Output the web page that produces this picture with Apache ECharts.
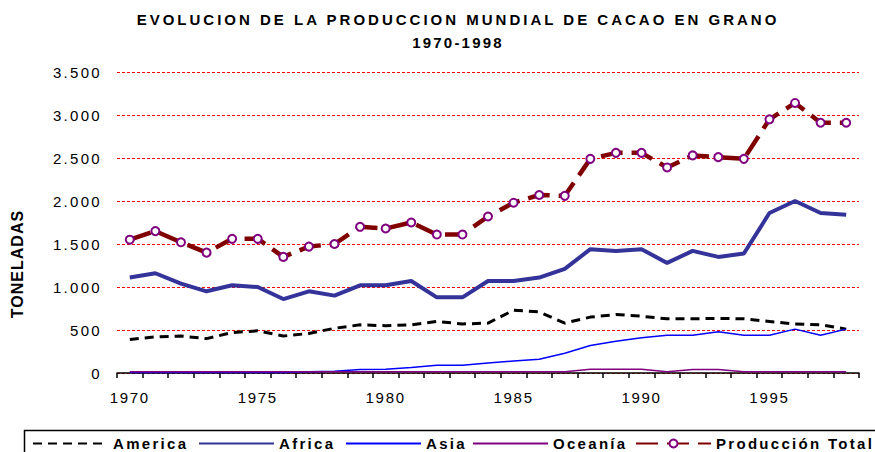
<!DOCTYPE html>
<html>
<head>
<meta charset="utf-8">
<script src="https://cdn.jsdelivr.net/npm/echarts@6/dist/echarts.min.js"></script>
<style>
	html, body { margin: 0; padding: 0; background: #fff; }
	#chart { width: 875px; height: 452px; }
	/* espaciado de letras como en el original (solo en modo svg) */
	text[style*="xqtitle"] { letter-spacing: 3px; }
	text[style*="xqsub"] { letter-spacing: 2.2px; }
	text[style*="xqlgd"] { letter-spacing: 2.3px; }
	text[style*="xqxlab"] { letter-spacing: 1.7px; }
	text[style*="xqylab"] { letter-spacing: 2.3px; }
	text[style*="xqyname"] { letter-spacing: 1px; }
</style>
</head>
<body>
<div id="chart"></div>
<script>
	// años 1970-1998
	var years = ['1970','1971','1972','1973','1974','1975','1976','1977','1978','1979',
		'1980','1981','1982','1983','1984','1985','1986','1987','1988','1989',
		'1990','1991','1992','1993','1994','1995','1996','1997','1998'];

	// miles de toneladas
	var america = [390,420,430,400,470,490,430,460,520,560,550,560,600,570,580,730,710,580,650,680,660,630,630,635,630,600,570,560,510];
	var africa = [1110,1160,1040,950,1020,1000,860,950,900,1020,1020,1070,880,880,1070,1070,1110,1210,1440,1420,1440,1280,1420,1350,1390,1860,2000,1860,1840];
	var asia = [5,5,5,5,5,5,5,15,20,40,45,65,90,90,115,140,160,230,320,370,410,440,440,480,440,440,510,440,510];
	var oceania = [15,15,15,15,15,15,15,15,15,15,15,15,15,15,15,15,15,15,45,45,45,15,40,40,15,15,15,15,15];
	var total = [1550,1650,1520,1400,1560,1560,1350,1470,1500,1700,1680,1750,1610,1610,1820,1980,2070,2060,2490,2560,2560,2390,2530,2510,2490,2950,3140,2910,2910];

	var seriesNames = ['America', 'Africa', 'Asia', 'Oceanía', 'Producción Total'];
	var legendLeft = [27, 193, 340, 467, 630];

	var chart = echarts.init(document.getElementById('chart'), null, {renderer: 'svg'});

	function fmtMiles(v) {
		return String(v).replace(/\B(?=(\d{3})+(?!\d))/g, '.');
	}

	var legends = [];
	for (var i = 0; i < seriesNames.length; i++) {
		var lg = {
			data: [seriesNames[i]],
			left: legendLeft[i],
			top: 431,
			itemWidth: 75,
			itemHeight: 10,
			selectedMode: false,
			textStyle: {
				color: '#000',
				fontSize: 15,
				fontWeight: 'bold',
				fontFamily: 'xqlgd, Liberation Sans'
			}
		};
		// solo la serie total lleva marcador en la leyenda
		if (i < 4) {
			lg.itemStyle = {opacity: 0};
		}
		legends.push(lg);
	}

	var option = {
		animation: false,
		backgroundColor: '#fff',
		title: [{
			text: 'EVOLUCION DE LA PRODUCCION MUNDIAL DE CACAO EN GRANO',
			left: 458,
			top: 12,
			textAlign: 'center',
			padding: 0,
			textStyle: {color: '#000', fontSize: 15, fontWeight: 'bold', fontFamily: 'xqtitle, Liberation Sans'}
		}, {
			text: '1970-1998',
			left: 458,
			top: 35,
			textAlign: 'center',
			padding: 0,
			textStyle: {color: '#000', fontSize: 15, fontWeight: 'bold', fontFamily: 'xqsub, Liberation Sans'}
		}],
		legend: legends,
		grid: {
			left: 117,
			right: 16,
			top: 72,
			bottom: 79,
			containLabel: false,
			outerBoundsMode: 'none'
		},
		xAxis: {
			type: 'category',
			data: years,
			boundaryGap: true,
			axisLine: {lineStyle: {color: '#000', width: 1.5}},
			axisTick: {show: true, interval: 0, length: 5, lineStyle: {color: '#000', width: 1.5}},
			axisLabel: {
				interval: 4,
				margin: 17,
				color: '#000',
				fontSize: 15,
				fontFamily: 'xqxlab, Liberation Sans'
			},
			splitLine: {show: false}
		},
		yAxis: {
			type: 'value',
			min: 0,
			max: 3500,
			interval: 500,
			axisLine: {show: false},
			axisTick: {show: false},
			axisLabel: {
				margin: 15,
				color: '#000',
				fontSize: 15,
				fontFamily: 'xqylab, Liberation Sans',
				formatter: fmtMiles
			},
			splitLine: {lineStyle: {color: '#FF0000', width: 1, type: [3, 2]}}
		},
		graphic: [{
			type: 'rect',
			left: 22,
			top: 428,
			shape: {width: 870, height: 40},
			style: {fill: 'none', stroke: '#000', lineWidth: 1.5},
			silent: true
		}, {
			type: 'text',
			x: 17,
			y: 264,
			rotation: Math.PI / 2,
			style: {
				text: 'TONELADAS',
				fill: '#000',
				font: 'bold 16px xqyname, Liberation Sans',
				align: 'center',
				verticalAlign: 'middle'
			},
			silent: true
		}],
		series: [{
			name: 'America',
			type: 'line',
			data: america,
			symbol: 'none',
			color: '#000',
			lineStyle: {color: '#000', width: 3, type: [9, 6]}
		}, {
			name: 'Africa',
			type: 'line',
			data: africa,
			symbol: 'none',
			color: '#333399',
			lineStyle: {color: '#333399', width: 4}
		}, {
			name: 'Asia',
			type: 'line',
			data: asia,
			symbol: 'none',
			color: '#0000FF',
			lineStyle: {color: '#0000FF', width: 1.5}
		}, {
			name: 'Oceanía',
			type: 'line',
			data: oceania,
			symbol: 'none',
			color: '#800080',
			lineStyle: {color: '#800080', width: 1.5}
		}, {
			name: 'Producción Total',
			type: 'line',
			data: total,
			symbol: 'emptyCircle',
			symbolSize: 8,
			itemStyle: {color: '#800080', borderColor: '#800080', borderWidth: 2},
			lineStyle: {color: '#800000', width: 4.5, type: [22, 9]}
		}]
	};

	chart.setOption(option);
	window.onresize = function() {
		chart.resize();
	};
</script>
</body>
</html>
